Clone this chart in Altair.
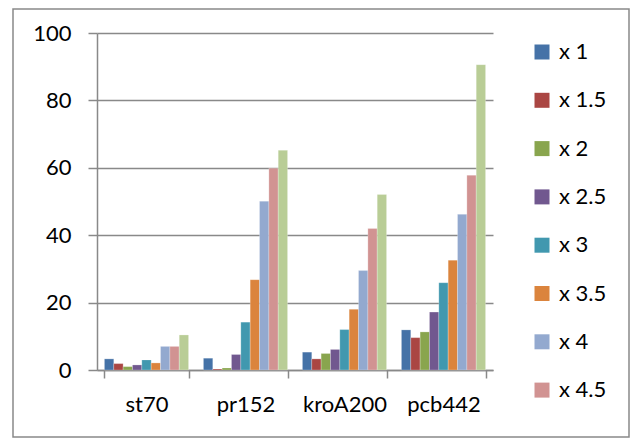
import altair as alt
import pandas as pd

categories = ["st70", "pr152", "kroA200", "pcb442"]
series = ["x 1", "x 1.5", "x 2", "x 2.5", "x 3", "x 3.5", "x 4", "x 4.5", "x 5"]
colors = ["#4572A7", "#AA4643", "#89A54E", "#71588F", "#4198AF",
          "#DB843D", "#93A9CF", "#D19392", "#B9CD96"]

values_st70 = [3.3, 1.9, 1.0, 1.5, 3.0, 2.1, 7.0, 7.0, 10.4]
values_pr152 = [3.5, 0.3, 0.6, 4.6, 14.2, 26.8, 50.1, 59.9, 65.2]
values_kroA200 = [5.3, 3.3, 4.9, 6.1, 12.0, 18.0, 29.5, 42.0, 52.1]
values_pcb442 = [11.9, 9.6, 11.3, 17.2, 25.9, 32.6, 46.2, 57.8, 90.6]

y_ticks = [0, 20, 40, 60, 80, 100]

all_values = [values_st70, values_pr152, values_kroA200, values_pcb442]
rows = []
for cat, vals in zip(categories, all_values):
    for s, v in zip(series, vals):
        rows.append({"instance": cat, "series": s, "value": v})
df = pd.DataFrame(rows)

FONT = "Lato"
GRAY = "#898989"

bars = alt.Chart(df).mark_bar(stroke="white", strokeWidth=0.4, strokeOpacity=0.6).encode(
    x=alt.X(
        "instance:N",
        sort=categories,
        scale=alt.Scale(paddingInner=0.15, paddingOuter=0.075),
        axis=alt.Axis(
            title=None, labelAngle=0, tickBand="extent", tickSize=8,
            labelPadding=16, labelFontSize=22, labelFont=FONT, labelColor="black",
            domainColor=GRAY, tickColor=GRAY, domainWidth=1.5, tickWidth=1.5,
            grid=False,
        ),
    ),
    xOffset=alt.XOffset("series:N", sort=series,
                        scale=alt.Scale(paddingInner=0, paddingOuter=0)),
    y=alt.Y(
        "value:Q",
        scale=alt.Scale(domain=[0, 100]),
        axis=alt.Axis(
            values=y_ticks, title=None, tickSize=9, labelPadding=17,
            labelFontSize=22, labelFont=FONT, labelColor="black",
            domainColor=GRAY, tickColor=GRAY, domainWidth=1.5, tickWidth=1.5,
            grid=True, gridColor=GRAY, gridWidth=1.5,
        ),
    ),
    color=alt.Color(
        "series:N",
        sort=series,
        scale=alt.Scale(domain=series, range=colors),
        legend=alt.Legend(
            values=series[:8], orient="none", legendX=434, legendY=8,
            title=None, symbolType="square", symbolSize=225,
            labelFontSize=22, labelFont=FONT, labelColor="black",
            rowPadding=26.3, labelOffset=6, padding=0, symbolStrokeWidth=0,
        ),
    ),
)

frame = alt.Chart(pd.DataFrame({"a": [0]})).mark_rect(
    fill="white", fillOpacity=0, stroke=GRAY, strokeWidth=1.5
).encode(
    x=alt.value(-84), x2=alt.value(532), y=alt.value(-24), y2=alt.value(404)
)

chart = alt.layer(bars, frame).properties(
    width=396, height=337,
    padding={"left": 89, "top": 25, "right": 138, "bottom": 69},
    autosize=alt.AutoSizeParams(type="none"),
).configure_view(stroke=None)

chart.save("out.html", embed_options={"renderer": "svg", "actions": False})
